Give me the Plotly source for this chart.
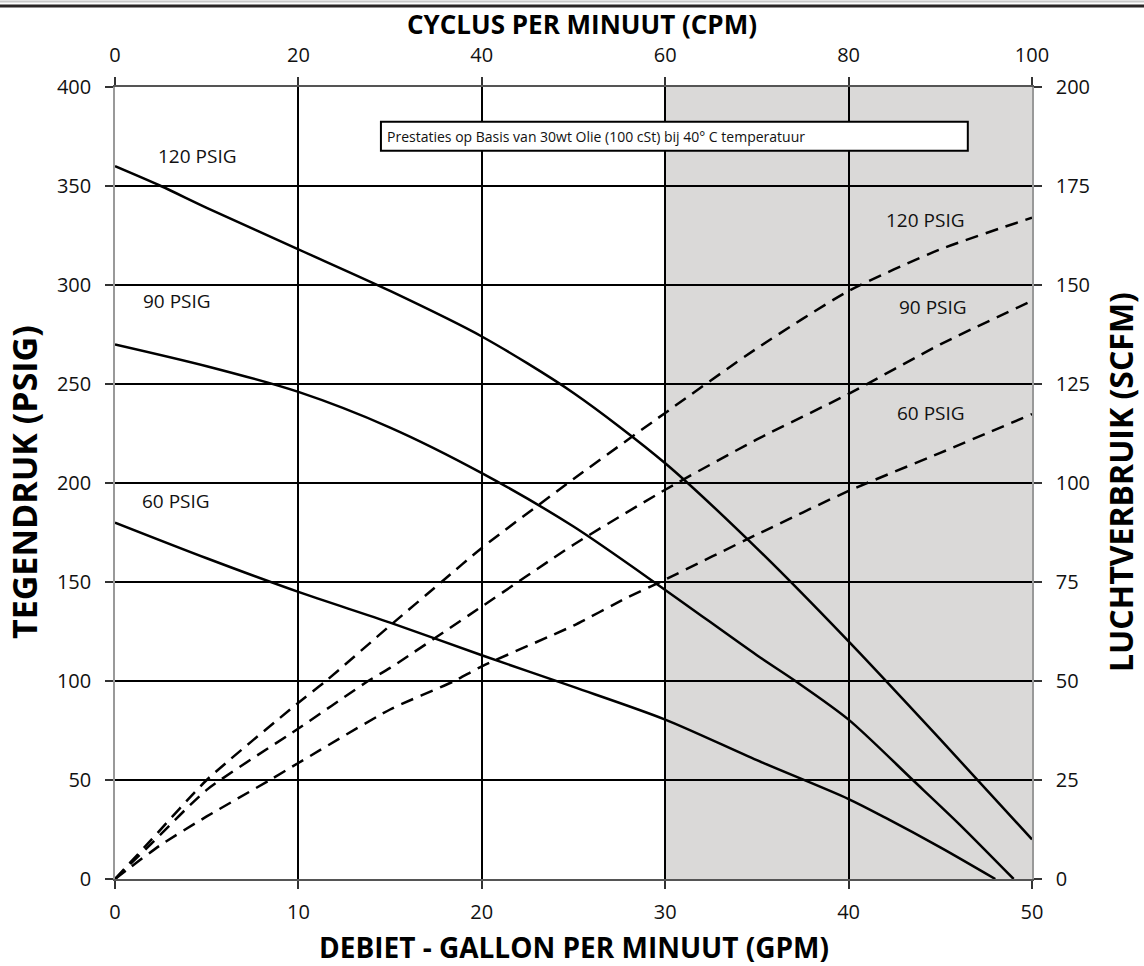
import plotly.graph_objects as go

# ---------------- data ----------------
# Back pressure (PSIG) vs flow (GPM) -- solid curves
gpm_120 = [0, 2.5, 5, 10, 15, 20, 25, 30, 35, 40, 45, 50]
psig_120 = [360, 350, 339, 318, 297, 274, 245.5, 210, 167, 120, 70.5, 20]

gpm_90 = [0, 5, 10, 15, 20, 25, 30, 35, 37.1, 40, 43.5, 46, 49]
psig_90 = [270, 259, 246, 228, 205, 178, 146, 113, 100, 80.5, 50, 28, 0]

gpm_60 = [0, 5, 10, 15, 20, 25, 30, 35, 40, 42, 45, 48]
psig_60 = [180, 162, 145, 129.5, 113, 97, 80.5, 60, 40.4, 31, 16, 0]

# Air consumption (SCFM) vs flow (GPM) -- dashed curves
air_gpm_120 = [0, 2, 5, 10, 11.5, 15, 17.8, 20, 25, 30, 35, 40, 45, 50]
scfm_120 = [0, 10, 25, 44.5, 50, 64, 75, 83.6, 101, 117.7, 134, 148.5, 159, 167]

air_gpm_90 = [0, 2, 5, 10, 13.8, 15, 20, 25, 30, 35, 40, 45, 50]
scfm_90 = [0, 9, 22.5, 38, 50, 53.3, 68.8, 84.4, 98.3, 111, 122.5, 135, 146]

air_gpm_60 = [0, 2.4, 5, 8.45, 10, 15, 18.5, 20, 25, 27.9, 30, 35, 40, 45, 50]
scfm_60 = [0, 8.3, 15.8, 25, 29.3, 42.8, 50, 53.7, 64, 71, 75.6, 87, 98, 107.6, 117.4]

curve_labels = ["120 PSIG", "90 PSIG", "60 PSIG"]
left_label_pos = [(4.5, 365), (3.4, 292), (3.3, 191)]
right_label_pos = [(44.2, 333), (44.6, 289), (44.5, 235.5)]

gpm_ticks = [0, 10, 20, 30, 40, 50]
cpm_ticks = [0, 20, 40, 60, 80, 100]
psig_ticks = [0, 50, 100, 150, 200, 250, 300, 350, 400]
scfm_ticks = [0, 25, 50, 75, 100, 125, 150, 175, 200]

shaded_gpm = (30, 50)
note_text = "Prestaties op Basis van 30wt Olie (100 cSt) bij 40° C temperatuur"

# ---------------- figure ----------------
FONT = "Open Sans"
W, H = 1144, 966
ML, MR, MT, MB = 115, 112, 87, 87
PW, PH = W - ML - MR, H - MT - MB

fig = go.Figure()

line_solid = dict(color="black", width=2.5, shape="spline", smoothing=0.8)
line_dash = dict(color="black", width=2.5, dash="13px,8px", shape="spline", smoothing=0.6)

for gx, gy in [(gpm_120, psig_120), (gpm_90, psig_90), (gpm_60, psig_60)]:
    fig.add_trace(go.Scatter(x=gx, y=gy, mode="lines", line=line_solid,
                             xaxis="x", yaxis="y", showlegend=False, hoverinfo="skip"))

for gx, gy in [(air_gpm_120, scfm_120), (air_gpm_90, scfm_90), (air_gpm_60, scfm_60)]:
    fig.add_trace(go.Scatter(x=gx, y=gy, mode="lines", line=line_dash,
                             xaxis="x", yaxis="y2", showlegend=False, hoverinfo="skip"))

# invisible trace for the top axis
fig.add_trace(go.Scatter(x=[cpm_ticks[0], cpm_ticks[-1]], y=[0, 0], mode="markers",
                         marker=dict(opacity=0), xaxis="x2", yaxis="y",
                         showlegend=False, hoverinfo="skip"))

tickfont = dict(family=FONT, size=20, color="#111")
common_grid = dict(showgrid=True, gridcolor="black", gridwidth=2, zeroline=False,
                   ticks="outside", ticklen=8, tickwidth=1.5, tickcolor="#333",
                   tickfont=tickfont)

fig.update_layout(
    width=W, height=H,
    margin=dict(l=ML, r=MR, t=MT, b=MB, pad=0),
    paper_bgcolor="white", plot_bgcolor="white",
    xaxis=dict(range=[gpm_ticks[0], gpm_ticks[-1]], tickvals=gpm_ticks,
               showline=True, linecolor="#555", linewidth=2,
               ticklabelstandoff=6, **common_grid),
    xaxis2=dict(range=[cpm_ticks[0], cpm_ticks[-1]], tickvals=cpm_ticks,
                overlaying="x", side="top", anchor="y",
                showline=True, linecolor="#555", linewidth=2,
                showgrid=False, zeroline=False, ticks="outside", ticklen=8,
                tickwidth=1.5, tickcolor="#333", tickfont=tickfont,
                ticklabelstandoff=7),
    yaxis=dict(range=[psig_ticks[0], psig_ticks[-1]], tickvals=psig_ticks,
               showline=True, linecolor="#999", linewidth=1.5,
               ticklabelstandoff=10, **common_grid),
    yaxis2=dict(range=[scfm_ticks[0], scfm_ticks[-1]], tickvals=scfm_ticks,
                overlaying="y", side="right", anchor="x",
                showline=True, linecolor="#999", linewidth=1.5,
                showgrid=False, zeroline=False, ticks="outside", ticklen=8,
                tickwidth=1.5, tickcolor="#333", tickfont=tickfont,
                ticklabelstandoff=10),
)

# shaded region
fig.add_shape(type="rect", xref="x", yref="paper", x0=shaded_gpm[0], x1=shaded_gpm[1],
              y0=0, y1=1, fillcolor="#dad9d8", line=dict(width=0), layer="below")

# note box
fig.add_shape(type="rect", xref="x", yref="y", x0=14.5, x1=46.5, y0=367.8, y1=382.5,
              fillcolor="white", line=dict(color="black", width=2), layer="above")
fig.add_annotation(x=14.7, y=375.2, xref="x", yref="y", text=note_text, showarrow=False,
                   xanchor="left", yanchor="middle",
                   font=dict(family=FONT, size=14, color="#111"))

# curve labels
for lab, (lx, ly) in zip(curve_labels, left_label_pos):
    fig.add_annotation(x=lx, y=ly, xref="x", yref="y", text=lab, showarrow=False,
                       xanchor="center", yanchor="middle",
                       font=dict(family=FONT, size=19, color="#111"))
for lab, (lx, ly) in zip(curve_labels, right_label_pos):
    fig.add_annotation(x=lx, y=ly, xref="x", yref="y", text=lab, showarrow=False,
                       xanchor="center", yanchor="middle",
                       font=dict(family=FONT, size=19, color="#111"))

# axis titles
def px_to_paper_x(px):
    return (px - ML) / PW

def px_to_paper_y(py):
    return (H - MB - py) / PH

def title(text, px, py, size, angle=0):
    fig.add_annotation(text="<b>" + text + "</b>", xref="paper", yref="paper",
                       x=px_to_paper_x(px), y=px_to_paper_y(py), showarrow=False,
                       xanchor="center", yanchor="middle", textangle=angle,
                       font=dict(family=FONT, size=size, color="black"))

title("DEBIET - GALLON PER MINUUT (GPM)", 574, 947, 28)
title("CYCLUS PER MINUUT (CPM)", 582, 24, 26)
title("TEGENDRUK (PSIG)", 24, 482, 34, -90)
title("LUCHTVERBRUIK (SCFM)", 1120, 482, 32, -90)

# top border lines of the page
fig.add_shape(type="line", xref="paper", yref="paper",
              x0=px_to_paper_x(0), x1=px_to_paper_x(W), y0=px_to_paper_y(1.5), y1=px_to_paper_y(1.5),
              line=dict(color="#c8c8c8", width=2))
fig.add_shape(type="line", xref="paper", yref="paper",
              x0=px_to_paper_x(0), x1=px_to_paper_x(W), y0=px_to_paper_y(6), y1=px_to_paper_y(6),
              line=dict(color="#2a2626", width=3))

fig.write_html("out.html", config={"displayModeBar": False},
               post_script="document.body.style.margin='0';")
